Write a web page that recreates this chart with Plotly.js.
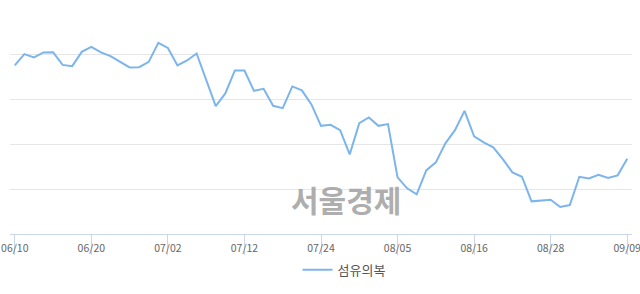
<!DOCTYPE html>
<html>
<head>
<meta charset="utf-8">
<script src="https://cdn.plot.ly/plotly-3.0.1.min.js"></script>
<style>
html,body{margin:0;padding:0;background:#fff;}
#chart{width:640px;height:294px;}
</style>
</head>
<body>
<div id="chart"></div>
<script>
var dates = ["06/10","06/11","06/12","06/13","06/14","06/17","06/18","06/19","06/20","06/21",
"06/24","06/25","06/26","06/27","06/28","07/01","07/02","07/03","07/04","07/05",
"07/08","07/09","07/10","07/11","07/12","07/15","07/16","07/17","07/18","07/19",
"07/22","07/23","07/24","07/25","07/26","07/29","07/30","07/31","08/01","08/02",
"08/05","08/06","08/07","08/08","08/09","08/12","08/13","08/14","08/16","08/19",
"08/20","08/21","08/22","08/23","08/26","08/27","08/28","08/29","08/30","09/02",
"09/03","09/04","09/05","09/06","09/09"];

var values = [37.66,40.18,39.44,40.56,40.63,37.79,37.50,40.69,41.81,40.56,
39.73,38.39,37.21,37.28,38.46,42.70,41.58,37.66,38.77,40.33,
34.38,28.57,31.41,36.54,36.54,31.99,32.43,28.64,28.13,32.97,
32.08,28.95,24.17,24.40,23.21,17.79,24.78,26.05,24.17,24.55,
12.66,10.20,8.86,14.22,16.00,20.25,23.21,27.52,21.81,20.47,
19.35,16.74,13.77,12.79,7.30,7.52,7.66,6.03,6.47,12.79,
12.43,13.24,12.50,13.10,16.81];

var tickLabels = ["06/10","06/20","07/02","07/12","07/24","08/05","08/16","08/28","09/09"];
var seriesName = "섬유의복";
var watermark = "서울경제";

var trace = {
  x: dates,
  y: values,
  type: "scatter",
  mode: "lines",
  name: seriesName,
  line: {color: "#7cb5ec", width: 2},
  hoverinfo: "x+y"
};

var layout = {
  width: 640,
  height: 294,
  margin: {l: 10, r: 8, t: 10, b: 60},
  paper_bgcolor: "#ffffff",
  plot_bgcolor: "#ffffff",
  font: {family: "'Noto Sans CJK KR', 'Noto Sans', sans-serif", color: "#666666", size: 11},
  xaxis: {
    type: "category",
    range: [-0.5, 64.5],
    tickmode: "array",
    tickvals: tickLabels,
    ticktext: tickLabels,
    ticks: "outside",
    ticklen: 20,
    tickwidth: 1,
    tickcolor: "#ccd6eb",
    ticklabelstandoff: -16,
    showline: true,
    linecolor: "#ccd6eb",
    linewidth: 1,
    showgrid: false,
    zeroline: false,
    tickfont: {size: 10.5, color: "#666666"},
    fixedrange: true
  },
  yaxis: {
    range: [0, 50.05],
    dtick: 10,
    tick0: 0,
    showticklabels: false,
    showgrid: true,
    gridcolor: "#e6e6e6",
    gridwidth: 1,
    zeroline: false,
    showline: false,
    ticks: "",
    fixedrange: true
  },
  showlegend: true,
  legend: {
    orientation: "h",
    x: 0.537,
    xanchor: "center",
    y: -0.16,
    yanchor: "middle",
    font: {size: 13, color: "#555555"},
    itemwidth: 30
  },
  annotations: [{
    text: watermark,
    xref: "paper",
    yref: "paper",
    x: 0.54,
    y: 0.156,
    xanchor: "center",
    yanchor: "middle",
    showarrow: false,
    font: {family: "'Noto Sans CJK KR', sans-serif", size: 30, color: "rgba(160,160,160,0.85)", weight: 700}
  }]
};

Plotly.newPlot("chart", [trace], layout, {displayModeBar: false, staticPlot: true});
</script>
</body>
</html>
